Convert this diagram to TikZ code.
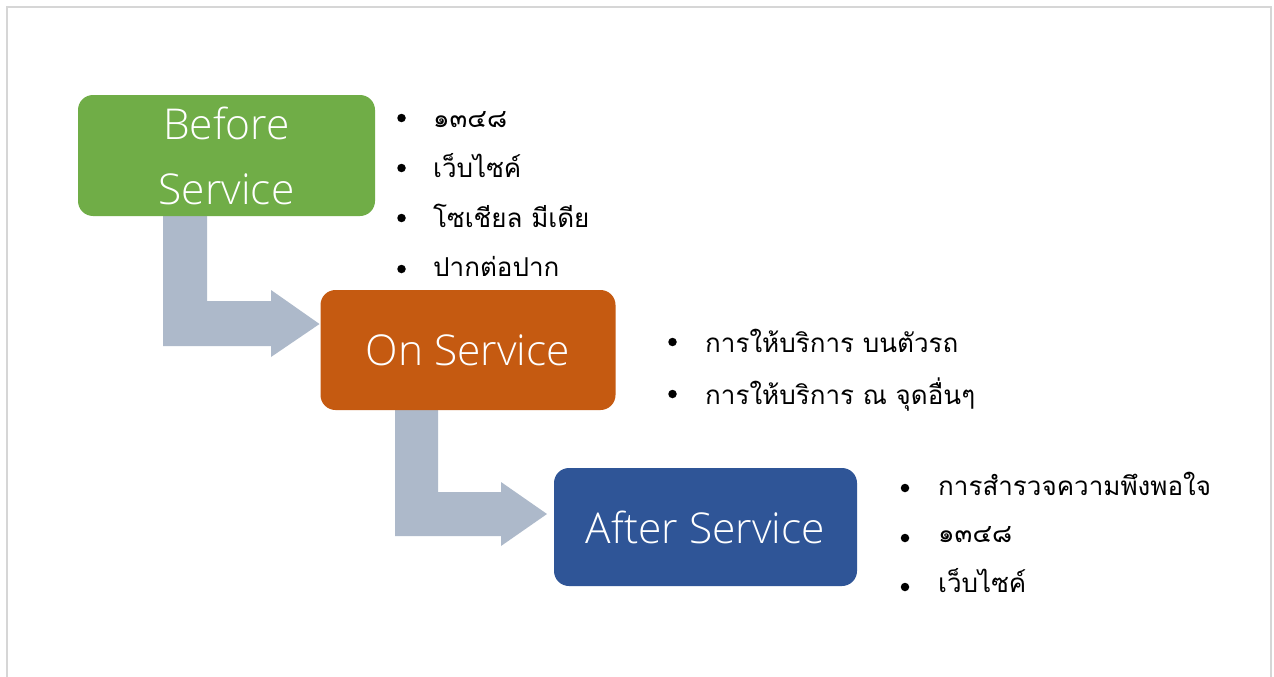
\documentclass[tikz,border=0pt]{standalone}
\usepackage{fontspec}
\IfFontExistsTF{Open Sans Light}{\newfontfamily\boxfont{Open Sans Light}}{\newfontfamily\boxfont{Open Sans}}
\newfontfamily\thaifont[Script=Thai]{Loma}
\definecolor{frameGray}{HTML}{D6D6D6}
\definecolor{boxGreen}{HTML}{70AD47}
\definecolor{boxOrange}{HTML}{C55A11}
\definecolor{boxBlue}{HTML}{2F5597}
\definecolor{arrowGray}{HTML}{ADB9CA}
\begin{document}
\begin{tikzpicture}[x=1pt,y=-1pt,
  stagebox/.style={rounded corners=15pt, inner sep=0pt, text=white,
    font=\boxfont\fontsize{42.5}{65}\selectfont, align=center},
  bentarrow/.style={fill=arrowGray, draw=none},
  item/.style={anchor=base west, inner sep=0pt, font=\thaifont\fontsize{26}{32}\selectfont, text=black},
  dot/.style={circle, fill=black, inner sep=0pt, minimum size=8.5pt}]
\useasboundingbox (0,0) rectangle (1274,677);
\fill[white] (0,0) rectangle (1274,677);
\draw[frameGray, line width=2.5pt] (7,690) -- (7,7) -- (1271,7) -- (1271,690);
% bent arrows
\fill[bentarrow] (163,205) -- (207,205) -- (207,301) -- (271,301) -- (271,290) -- (319.5,324)
  -- (271,357) -- (271,346) -- (163,346) -- cycle;
\fill[bentarrow] (395,400) -- (438,400) -- (438,492) -- (501,492) -- (501,482) -- (547,514)
  -- (501,546) -- (501,536) -- (395,536) -- cycle;
% stage boxes
\node[stagebox, fill=boxGreen, minimum width=297pt, minimum height=121pt] (before) at (226.5,155.5) {Before\\Service};
\node[stagebox, fill=boxOrange, minimum width=295pt, minimum height=120pt] (on) at (468,350) {On Service};
\node[stagebox, fill=boxBlue, minimum width=303pt, minimum height=118pt] (after) at (705.5,527) {After Service};
% list 1
\node[dot] (b1a) at (401.5,118) {};
\node[item] (t1a) at (433,127) {๑๓๔๘};
\node[dot] (b1b) at (401.5,168) {};
\node[item] (t1b) at (433,177) {เว็บไซค์};
\node[dot] (b1c) at (401.5,218) {};
\node[item] (t1c) at (433,227) {โซเชียล มีเดีย};
\node[dot] (b1d) at (401.5,269) {};
\node[item] (t1d) at (433,276) {ปากต่อปาก};
% list 2
\node[dot] (b2a) at (672.5,342) {};
\node[item] (t2a) at (705,352) {การให้บริการ บนตัวรถ};
\node[dot] (b2b) at (672.5,394) {};
\node[item] (t2b) at (705,404) {การให้บริการ ณ จุดอื่นๆ};
% list 3
\node[dot] (b3a) at (905,488) {};
\node[item] (t3a) at (938,495) {การสำรวจความพึงพอใจ};
\node[dot] (b3b) at (905,538) {};
\node[item] (t3b) at (938,542) {๑๓๔๘};
\node[dot] (b3c) at (905,587) {};
\node[item] (t3c) at (938,592) {เว็บไซค์};
\end{tikzpicture}
\end{document}
